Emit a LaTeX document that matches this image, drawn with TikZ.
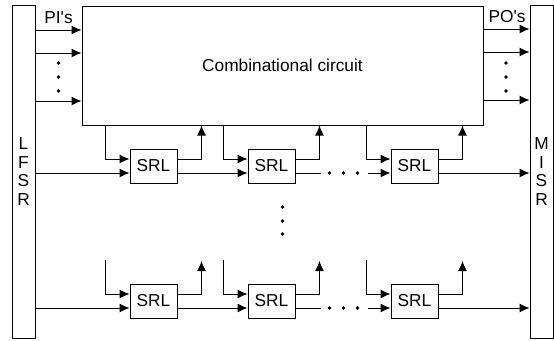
\documentclass[tikz,border=0pt]{standalone}
\usepackage{fontspec}
\setmainfont{Liberation Sans}
\usetikzlibrary{arrows.meta,positioning}

\begin{document}
\begin{tikzpicture}[
  x=1pt,y=-1pt,
  line width=1pt,
  font=\fontsize{17.3}{18.5}\selectfont,
  box/.style={rectangle,draw=black,line width=1pt,inner sep=0pt,align=center},
  srl/.style={box,minimum width=47pt,minimum height=34pt},
  reg/.style={box,minimum width=23pt,minimum height=333pt},
  flow/.style={-{Latex[length=10pt,width=9pt]}}
]
\useasboundingbox (0,0) rectangle (554,340);

% ===================== registers and circuit =====================
\node[reg] (lfsr) at (23.5,171.5) {L\\F\\S\\R};
\node[reg] (misr) at (541.5,171.5) {M\\I\\S\\R};
\node[box,minimum width=401pt,minimum height=119pt] (comb) at (282.5,65.5) {Combinational circuit};

% ===================== scan chains =====================
% first chain
\node[srl] (srlA1) at (153.5,166) {SRL};
\node[srl,right=70pt of srlA1] (srlA2) {SRL};
\node[srl,right=95pt of srlA2] (srlA3) {SRL};
% last chain
\node[srl,below=100pt of srlA1] (srlB1) {SRL};
\node[srl,right=70pt of srlB1] (srlB2) {SRL};
\node[srl,right=95pt of srlB2] (srlB3) {SRL};

% ===================== primary inputs / outputs =====================
\node (pi) at (58.5,18) {PI\textquotesingle s};
\node (po) at (507,17) {PO\textquotesingle s};
\foreach \y in {30,53,101}
  \draw[flow] (lfsr.east |- 0,\y) -- (comb.west |- 0,\y);
\foreach \y in {29,52,100}
  \draw[flow] (comb.east |- 0,\y) -- (misr.west |- 0,\y);
\foreach \y in {63,77,91} {
  \fill (58.5,\y) circle (1.8pt);
  \fill (506,\y) circle (1.8pt);
}

% ===================== edges =====================
% first chain: circuit -> SRL -> circuit
\foreach \c in {1,2,3} {
  \draw[flow] ([xshift=-24pt]srlA\c.west |- comb.south) |- ([yshift=7pt]srlA\c.west);
  \draw[flow] ([yshift=7pt]srlA\c.east) -| ([xshift=24pt]srlA\c.east |- comb.south);
}
% last chain: open ends towards the circuit
\foreach \c in {1,2,3} {
  \coordinate (inB\c) at ([xshift=-24pt,yshift=41pt]srlB\c.west);
  \coordinate (outB\c) at ([xshift=24pt,yshift=40pt]srlB\c.east);
  \draw[flow] (inB\c) |- ([yshift=7pt]srlB\c.west);
  \draw[flow] ([yshift=7pt]srlB\c.east) -| (outB\c);
}
% scan path LFSR -> SRLs -> MISR
\foreach \r in {A,B} {
  \coordinate (in\r) at ([yshift=-7pt]srl\r1.west);
  \coordinate (out\r) at ([yshift=-7pt]srl\r3.east);
  \draw[flow] (lfsr.east |- in\r) -- (in\r);
  \draw[flow] ([yshift=-7pt]srl\r1.east) -- ([yshift=-7pt]srl\r2.west);
  \draw ([yshift=-7pt]srl\r2.east) -- ++(25,0);
  \foreach \d in {34,48,62}
    \fill ([xshift=\d pt,yshift=-7pt]srl\r2.east) circle (1.8pt);
  \draw[flow] ([xshift=-23pt,yshift=-7pt]srl\r3.west) -- ([yshift=-7pt]srl\r3.west);
  \draw[flow] (out\r) -- (misr.west |- out\r);
}
% more chains in between
\foreach \y in {207,221,234}
  \fill (comb.south |- 0,\y) circle (1.8pt);

\end{tikzpicture}
\end{document}
